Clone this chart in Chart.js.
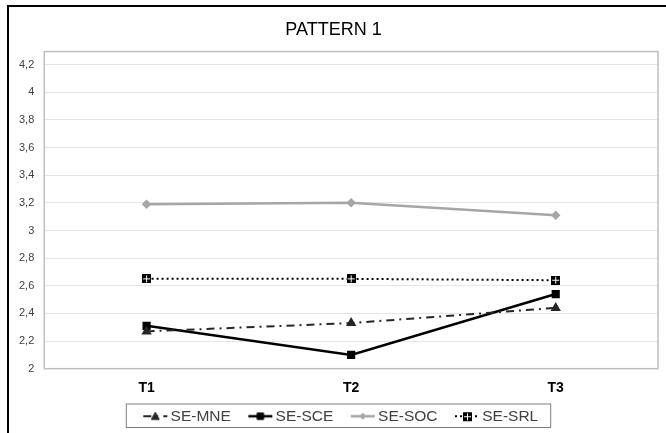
<!DOCTYPE html>
<html>
<head>
<meta charset="utf-8">
<script src="https://cdn.jsdelivr.net/npm/chart.js@4"></script>
<style>
  body { margin: 0; background: #fff; }
  #wrap { position: absolute; left: 7px; top: 5px; width: 657px; height: 426px;
          border-left: 2px solid #000; border-top: 2px solid #000; }
</style>
</head>
<body>
<div id="wrap"><canvas id="pattern1" width="657" height="426"></canvas></div>
<script>
var categories = ['T1', 'T2', 'T3'];
var seMNE = [2.27, 2.33, 2.44];
var seSCE = [2.31, 2.10, 2.54];
var seSOC = [3.19, 3.20, 3.11];
var seSRL = [2.65, 2.65, 2.64];

// Excel's "square with cross" marker
var crossMarker = document.createElement('canvas');
crossMarker.width = 9; crossMarker.height = 9;
(function () {
  var c = crossMarker.getContext('2d');
  c.fillStyle = '#000';
  c.fillRect(0, 0, 9, 9);
  c.fillStyle = '#fff';
  c.fillRect(4, 1, 1, 7);
  c.fillRect(1, 4, 7, 1);
})();

// small line + marker sample for the legend, like Excel does it
// (blank space on the left works as the gap between items)
function legendSample(ds) {
  var cv = document.createElement('canvas');
  cv.width = 45; cv.height = 12;
  var c = cv.getContext('2d');
  var x0 = 20, x1 = 44, mx = 32;
  c.strokeStyle = ds.borderColor;
  c.lineWidth = ds.borderWidth;
  c.setLineDash(ds.borderDash || []);
  c.beginPath(); c.moveTo(x0, 6); c.lineTo(x1, 6); c.stroke();
  c.setLineDash([]);
  if (typeof ds.pointStyle !== 'string') {
    c.drawImage(ds.pointStyle, mx - 4, 2);
    return cv;
  }
  c.fillStyle = ds.backgroundColor;
  c.strokeStyle = ds.borderColor;
  c.lineWidth = 1;
  c.beginPath();
  var r = ds.pointRadius;
  if (ds.pointStyle === 'triangle') {
    c.moveTo(mx, 6 - r); c.lineTo(mx + r, 6 + r * 0.8); c.lineTo(mx - r, 6 + r * 0.8); c.closePath();
  } else if (ds.pointStyle === 'rectRot') {
    c.moveTo(mx, 6 - r); c.lineTo(mx + r, 6); c.lineTo(mx, 6 + r); c.lineTo(mx - r, 6); c.closePath();
  } else {
    c.rect(mx - r * 0.8, 6 - r * 0.8, r * 1.6, r * 1.6);
  }
  c.fill(); c.stroke();
  return cv;
}

// grey frame round the plot area and black frame round the legend
var frames = {
  id: 'frames',
  afterDraw: function (chart) {
    var c = chart.ctx, a = chart.chartArea;
    c.save();
    c.strokeStyle = '#bfbfbf';
    c.lineWidth = 1.5;
    c.strokeRect(a.left, a.top - 13, a.right - a.left, a.bottom - a.top + 13);
    var boxes = chart.legend.legendHitBoxes;
    if (boxes && boxes.length) {
      var l = boxes[0].left - 3, r = boxes[boxes.length - 1].left + boxes[boxes.length - 1].width + 12;
      c.strokeStyle = '#7f7f7f';
      c.lineWidth = 1;
      c.strokeRect(l + 0.5, boxes[0].top - 4.5, r - l, boxes[0].height + 8);
    }
    c.restore();
  }
};

Chart.defaults.font.family = '"Liberation Sans", Arial, sans-serif';

var ctx = document.getElementById('pattern1').getContext('2d');
var myChart = new Chart(ctx, {
  type: 'line',
  data: {
    labels: categories,
    datasets: [{
      label: 'SE-MNE',
      data: seMNE,
      borderColor: '#262626',
      backgroundColor: '#262626',
      borderWidth: 2,
      borderDash: [8, 5, 2, 5],
      pointStyle: 'triangle',
      pointRadius: 4
    }, {
      label: 'SE-SCE',
      data: seSCE,
      borderColor: '#000000',
      backgroundColor: '#000000',
      borderWidth: 2.5,
      pointStyle: 'rect',
      pointRadius: 4
    }, {
      label: 'SE-SOC',
      data: seSOC,
      borderColor: '#a6a6a6',
      backgroundColor: '#a6a6a6',
      borderWidth: 2.5,
      pointStyle: 'rectRot',
      pointRadius: 3
    }, {
      label: 'SE-SRL',
      data: seSRL,
      borderColor: '#000000',
      backgroundColor: '#000000',
      borderWidth: 2,
      borderDash: [2, 3],
      pointStyle: crossMarker,
      pointRadius: 4
    }]
  },
  options: {
    responsive: false,
    animation: false,
    layout: { padding: { left: 0, right: 8, top: 0, bottom: -1 } },
    plugins: {
      title: {
        display: true,
        text: 'PATTERN 1',
        color: '#000',
        font: { size: 18, weight: 'normal' },
        padding: { top: 12, bottom: 24 }
      },
      legend: {
        position: 'bottom',
        labels: {
          usePointStyle: true,
          pointStyleWidth: 34,
          color: '#404040',
          font: { size: 15.5 },
          padding: 3,
          generateLabels: function (chart) {
            return chart.data.datasets.map(function (ds, i) {
              return {
                text: ds.label,
                pointStyle: legendSample(ds),
                fontColor: '#404040',
                lineWidth: 0,
                datasetIndex: i
              };
            });
          }
        }
      },
      tooltip: { enabled: false }
    },
    scales: {
      x: {
        offset: true,
        grid: { display: false },
        border: { display: false },
        ticks: { color: '#000', font: { size: 14, weight: 'bold' }, padding: 3 },
        afterFit: function (scale) { scale.height += 6; }
      },
      y: {
        min: 2,
        max: 4.2,
        grid: { color: '#e6e6e6', drawTicks: false },
        border: { display: false },
        ticks: {
          stepSize: 0.2,
          color: '#404040',
          font: { size: 11 },
          padding: 10,
          callback: function (v) { return (Math.round(v * 10) / 10).toString().replace('.', ','); }
        }
      }
    }
  },
  plugins: [frames]
});
</script>
</body>
</html>
